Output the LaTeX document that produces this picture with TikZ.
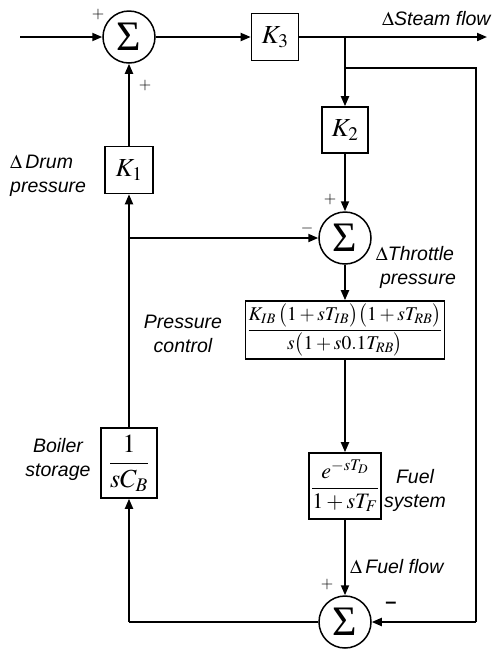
\documentclass[tikz,border=0pt]{standalone}
\usepackage{amsmath}
\usepackage{mathptmx}
\usepackage[no-math]{fontspec}
\setmainfont{Liberation Sans}
\newfontfamily\sigmafont{Liberation Serif}
\usetikzlibrary{arrows.meta}
\begin{document}
\begin{tikzpicture}[x=1pt,y=-1pt,
  blk/.style={draw, line width=1.6pt, inner sep=0pt, align=center},
  sumnode/.style={circle, draw, line width=1.5pt, minimum size=52pt, inner sep=0pt, font=\sigmafont\fontsize{42}{42}\selectfont},
  conn/.style={line width=1.9pt},
  arr/.style={conn, -{Triangle[length=10pt,width=8pt]}},
  lab/.style={font=\fontsize{19.5}{24}\selectfont\itshape, inner sep=0pt},
  sgn/.style={font=\fontsize{16}{16}\selectfont, inner sep=0pt},
  mth/.style={font=\fontsize{26}{30}\selectfont}
]
\useasboundingbox (0,0) rectangle (496,649);
% nodes
\coordinate (in) at (20,37);
\node[sumnode] (sum1) at (129,37) {Σ};
\node[blk, minimum width=47pt, minimum height=47pt, mth] (K3) at (275,37) {$K_3$};
\coordinate (b1) at (345,37);
\coordinate (out) at (487,37);
\coordinate (r1) at (345,68);
\coordinate (r2) at (476,68);
\coordinate (r3) at (476,622);
\node[blk, minimum width=46pt, minimum height=46pt, mth] (K2) at (345,130) {$K_2$};
\node[sumnode] (sum2) at (345,238) {Σ};
\node[blk, minimum width=199pt, minimum height=58pt, font=\fontsize{19.5}{22}\selectfont] (PI) at (345,330)
  {$\dfrac{K_{IB}\,\bigl(1+sT_{IB}\bigr)\bigl(1+sT_{RB}\bigr)}{s\bigl(1+s0.1T_{RB}\bigr)}$};
\node[blk, minimum width=72pt, minimum height=66pt, font=\fontsize{22}{24}\selectfont] (fuel) at (345,486)
  {$\dfrac{e^{-sT_D}}{1+sT_F}$};
\node[sumnode] (sum3) at (345,622) {Σ};
\node[blk, minimum width=48pt, minimum height=47pt, mth] (K1) at (129,170) {$K_1$};
\node[blk, minimum width=56pt, minimum height=70pt, mth] (boil) at (129,463) {$\dfrac{1}{sC_B}$};
\coordinate (j1) at (129,238);
\coordinate (bl) at (129,622);
% connectors
\draw[arr] (in) -- (sum1.west);
\draw[arr] (sum1.east) -- (K3.west);
\draw[arr] (K3.east) -- (out);
\draw[arr] (b1) -- (K2.north);
\draw[conn] (r1) -- (r2) -- (r3);
\draw[arr] (r3) -- (sum3.east);
\draw[arr] (K2.south) -- (sum2.north);
\draw[arr] (sum2.south) -- (PI.north);
\draw[arr] (PI.south) -- (fuel.north);
\draw[arr] (fuel.south) -- (sum3.north);
\draw[conn] (sum3.west) -- (bl);
\draw[arr] (bl) -- (boil.south);
\draw[arr] (boil.north) -- (K1.south);
\draw[arr] (K1.north) -- (sum1.south);
\draw[arr] (j1) -- (sum2.west);
% signs
\node[sgn] (p1) at (98,14) {$+$};
\node[sgn] (p2) at (145,85) {$+$};
\node[sgn] (p3) at (330,199) {$+$};
\node[sgn] (m1) at (307,228) {$-$};
\node[sgn] (p4) at (327,584) {$+$};
\node[font=\fontsize{20}{20}\selectfont\bfseries, inner sep=0pt] (m2) at (391,605) {–};
% labels
\node[lab, anchor=west] (steam) at (382,19) {$\Delta$Steam flow};
\node[lab, anchor=west, align=left] (drum) at (10,176) {$\Delta$\,Drum\\pressure};
\node[lab, align=center] (pc) at (183,334) {Pressure\\control};
\node[lab, align=center] (thr) at (415,267) {$\Delta$Throttle\\\hspace*{6pt}pressure};
\node[lab, align=center] (bs) at (58,459) {Boiler\\storage};
\node[lab, align=center] (fs) at (415,490) {Fuel\\system};
\node[lab, anchor=west] (ff) at (350,567) {$\Delta$\,Fuel flow};
\end{tikzpicture}
\end{document}
